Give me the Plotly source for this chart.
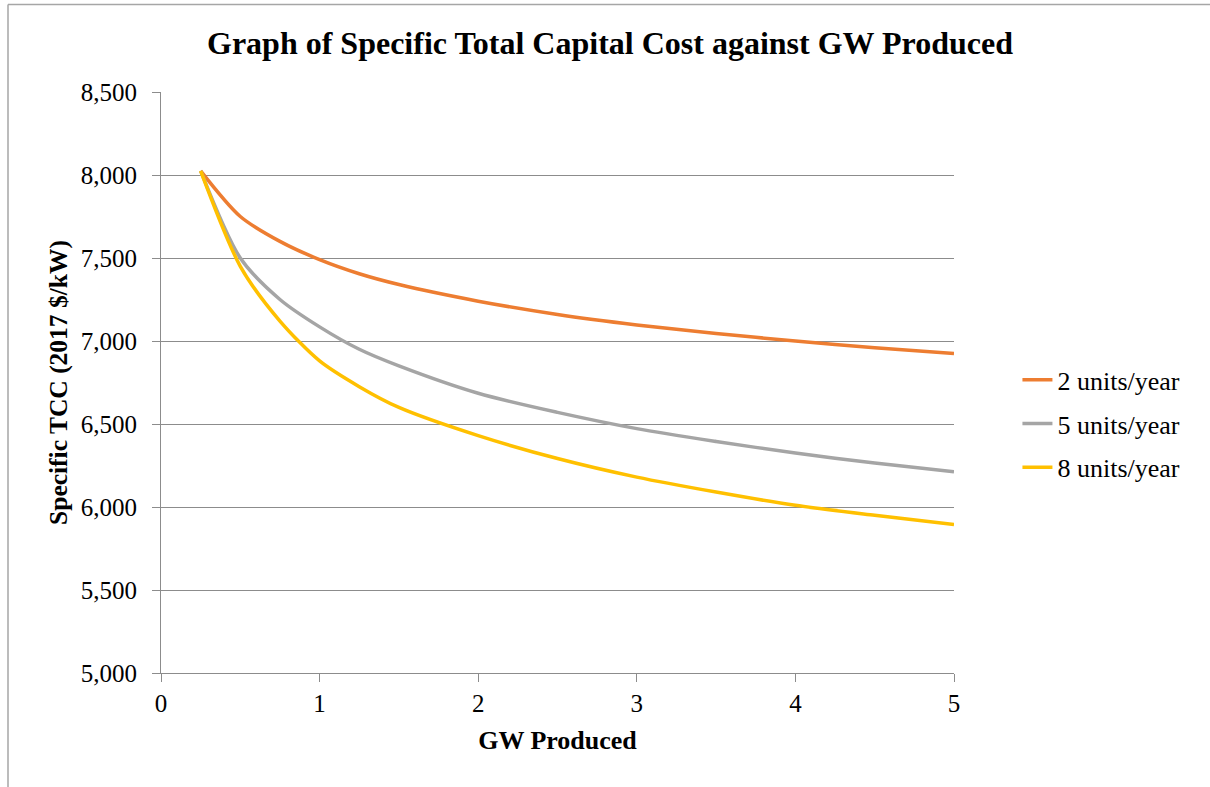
import plotly.graph_objects as go

gw_produced = [0.25, 0.5, 0.75, 1.0, 1.25, 1.5, 2.0, 2.5, 3.0, 3.5, 4.0, 4.5, 5.0]
units_2 = [8025, 7750, 7600, 7490, 7405, 7340, 7240, 7160, 7097, 7045, 7000, 6960, 6925]
units_5 = [8025, 7500, 7250, 7085, 6950, 6850, 6685, 6570, 6472, 6395, 6325, 6265, 6212]
units_8 = [8025, 7450, 7120, 6880, 6725, 6600, 6430, 6292, 6180, 6090, 6010, 5950, 5895]

series_names = ["2 units/year", "5 units/year", "8 units/year"]
series_colors = ["#ED7D31", "#A5A5A5", "#FFC000"]
series_values = [units_2, units_5, units_8]

FONT = "Liberation Serif, Times New Roman, serif"
GRID = "#8C8C8C"

fig = go.Figure()
for i, (name, col, vals) in enumerate(zip(series_names, series_colors, series_values)):
    fig.add_trace(go.Scatter(
        x=gw_produced, y=vals, mode="lines", name=name,
        line=dict(color=col, width=3.5, shape="spline", smoothing=0.8),
        legendgroup=f"g{i}",
    ))

fig.update_layout(
    width=1210, height=787,
    margin=dict(l=161, r=256, t=92, b=114),
    paper_bgcolor="white", plot_bgcolor="white",
    font=dict(family=FONT, color="black", size=25),
    title=dict(
        text="<b>Graph of Specific Total Capital Cost against GW Produced</b>",
        font=dict(family=FONT, size=32, color="black"),
        x=(610) / 1210, xanchor="center", y=1 - 43 / 787, yanchor="middle",
    ),
    showlegend=True,
    legend=dict(
        x=1.08, xanchor="left", y=0.429, yanchor="middle",
        font=dict(family=FONT, size=26, color="black"),
        tracegroupgap=7, bgcolor="rgba(0,0,0,0)",
    ),
    xaxis=dict(
        range=[0, 5], dtick=1, tick0=0, showgrid=False, zeroline=False,
        showline=True, linecolor=GRID, linewidth=1,
        ticks="outside", ticklen=8, tickcolor=GRID, tickwidth=1,
        tickfont=dict(family=FONT, size=25, color="black"),
        title=dict(text="<b>GW Produced</b>", font=dict(family=FONT, size=26, color="black"), standoff=14),
    ),
    yaxis=dict(
        range=[5000, 8500], dtick=500, tick0=5000, tickformat=",",
        showgrid=True, gridcolor=GRID, gridwidth=1, zeroline=False,
        showline=True, linecolor=GRID, linewidth=1,
        ticks="outside", ticklen=8, tickcolor=GRID, tickwidth=1,
        ticklabelstandoff=10,
        tickfont=dict(family=FONT, size=25, color="black"),
        title=dict(text="<b>Specific TCC (2017 $/kW)</b>", font=dict(family=FONT, size=25.5, color="black"), standoff=5),
    ),
    shapes=[
        dict(type="line", xref="paper", yref="paper",
             x0=(8 - 161) / 793, x1=(1215 - 161) / 793,
             y0=(673 - 4.5) / 581, y1=(673 - 4.5) / 581,
             line=dict(color="#A6A6A6", width=1.5)),
        dict(type="line", xref="paper", yref="paper",
             x0=(8 - 161) / 793, x1=(8 - 161) / 793,
             y0=(673 - 4.5) / 581, y1=(673 - 795) / 581,
             line=dict(color="#A6A6A6", width=1.5)),
    ],
)

fig.write_html("out.html")
